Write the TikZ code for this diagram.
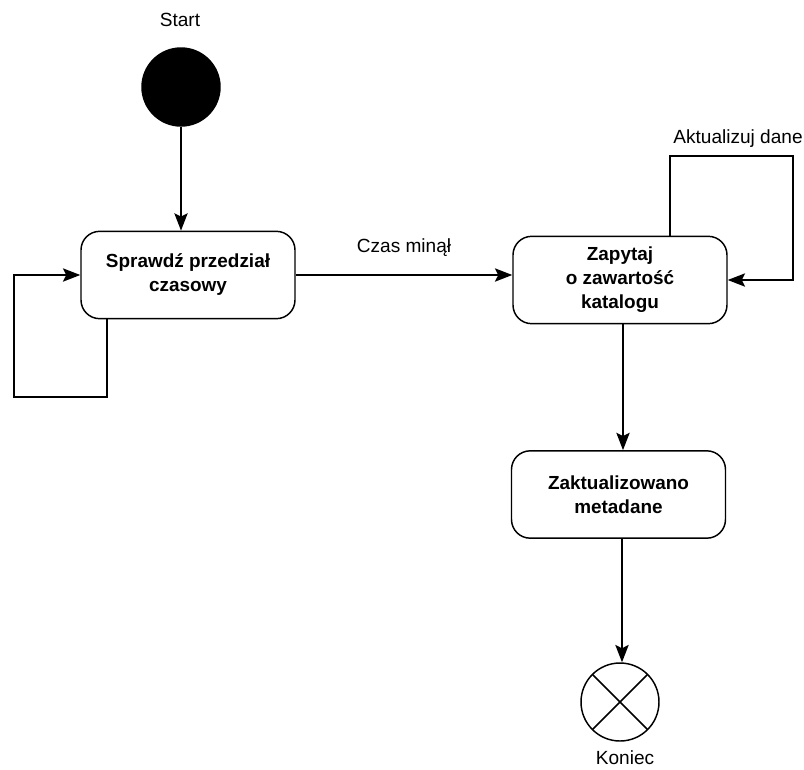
\documentclass[tikz,border=0pt]{standalone}
\usepackage{fontspec}
\setmainfont{Liberation Sans}
\usetikzlibrary{arrows.meta}
\begin{document}
\begin{tikzpicture}[x=0.75pt,y=-0.75pt,
  line width=1.1pt,
  arr/.style={-{Stealth[length=13pt,width=10pt,inset=2.5pt]}},
  state/.style={draw,rounded corners=14pt,minimum width=160.5pt,minimum height=65.5pt,
    align=center,font=\fontsize{14.2}{18}\selectfont\bfseries,inner sep=0pt},
  lbl/.style={font=\fontsize{14.3}{16}\selectfont,inner sep=0pt},
  terminal/.style={circle,minimum size=58.5pt,inner sep=0pt}]
\useasboundingbox (0,0) rectangle (804,769);

% initial and final pseudo-states
\node[terminal,fill=black,draw] (start) at (181,87) {};
\node[lbl] (startlbl) at (180,20) {Start};
\node[terminal,draw,path picture={
  \draw (path picture bounding box.north west) -- (path picture bounding box.south east);
  \draw (path picture bounding box.north east) -- (path picture bounding box.south west);}]
  (end) at (620,702) {};
\node[lbl] (endlbl) at (625,758) {Koniec};

% activity states
\node[state] (b1) at (188,275) {Sprawdź przedział\\czasowy};
\node[state] (b2) at (620,280) {Zapytaj\\o zawartość\\katalogu};
\node[state] (b3) at (618.5,494.5) {Zaktualizowano\\metadane};

% transitions
\draw[arr] (start) -- (start |- b1.north);
\draw[arr] (b1.east) -- (b1.east -| b2.west) node[lbl,midway,above=13pt] (czas) {Czas minął};
\draw[arr] (b2.south -| 623,0) -- (b3.north -| 623,0);
\draw[arr] (b3.south -| 622,0) -- (end.north -| 622,0);

% self loops
\coordinate (loopA) at (107,397);
\coordinate (loopB) at (14,397);
\draw[arr] (b1.south -| loopA) -- (loopA) -- (loopB) |- (b1.west);

\coordinate (loopC) at (670,156);
\coordinate (loopD) at (793,156);
\draw[arr] (b2.north -| loopC) -- (loopC) -- (loopD) |- (b2.east);
\node[lbl] (aktlbl) at (738,139) {Aktualizuj dane};
\end{tikzpicture}
\end{document}
